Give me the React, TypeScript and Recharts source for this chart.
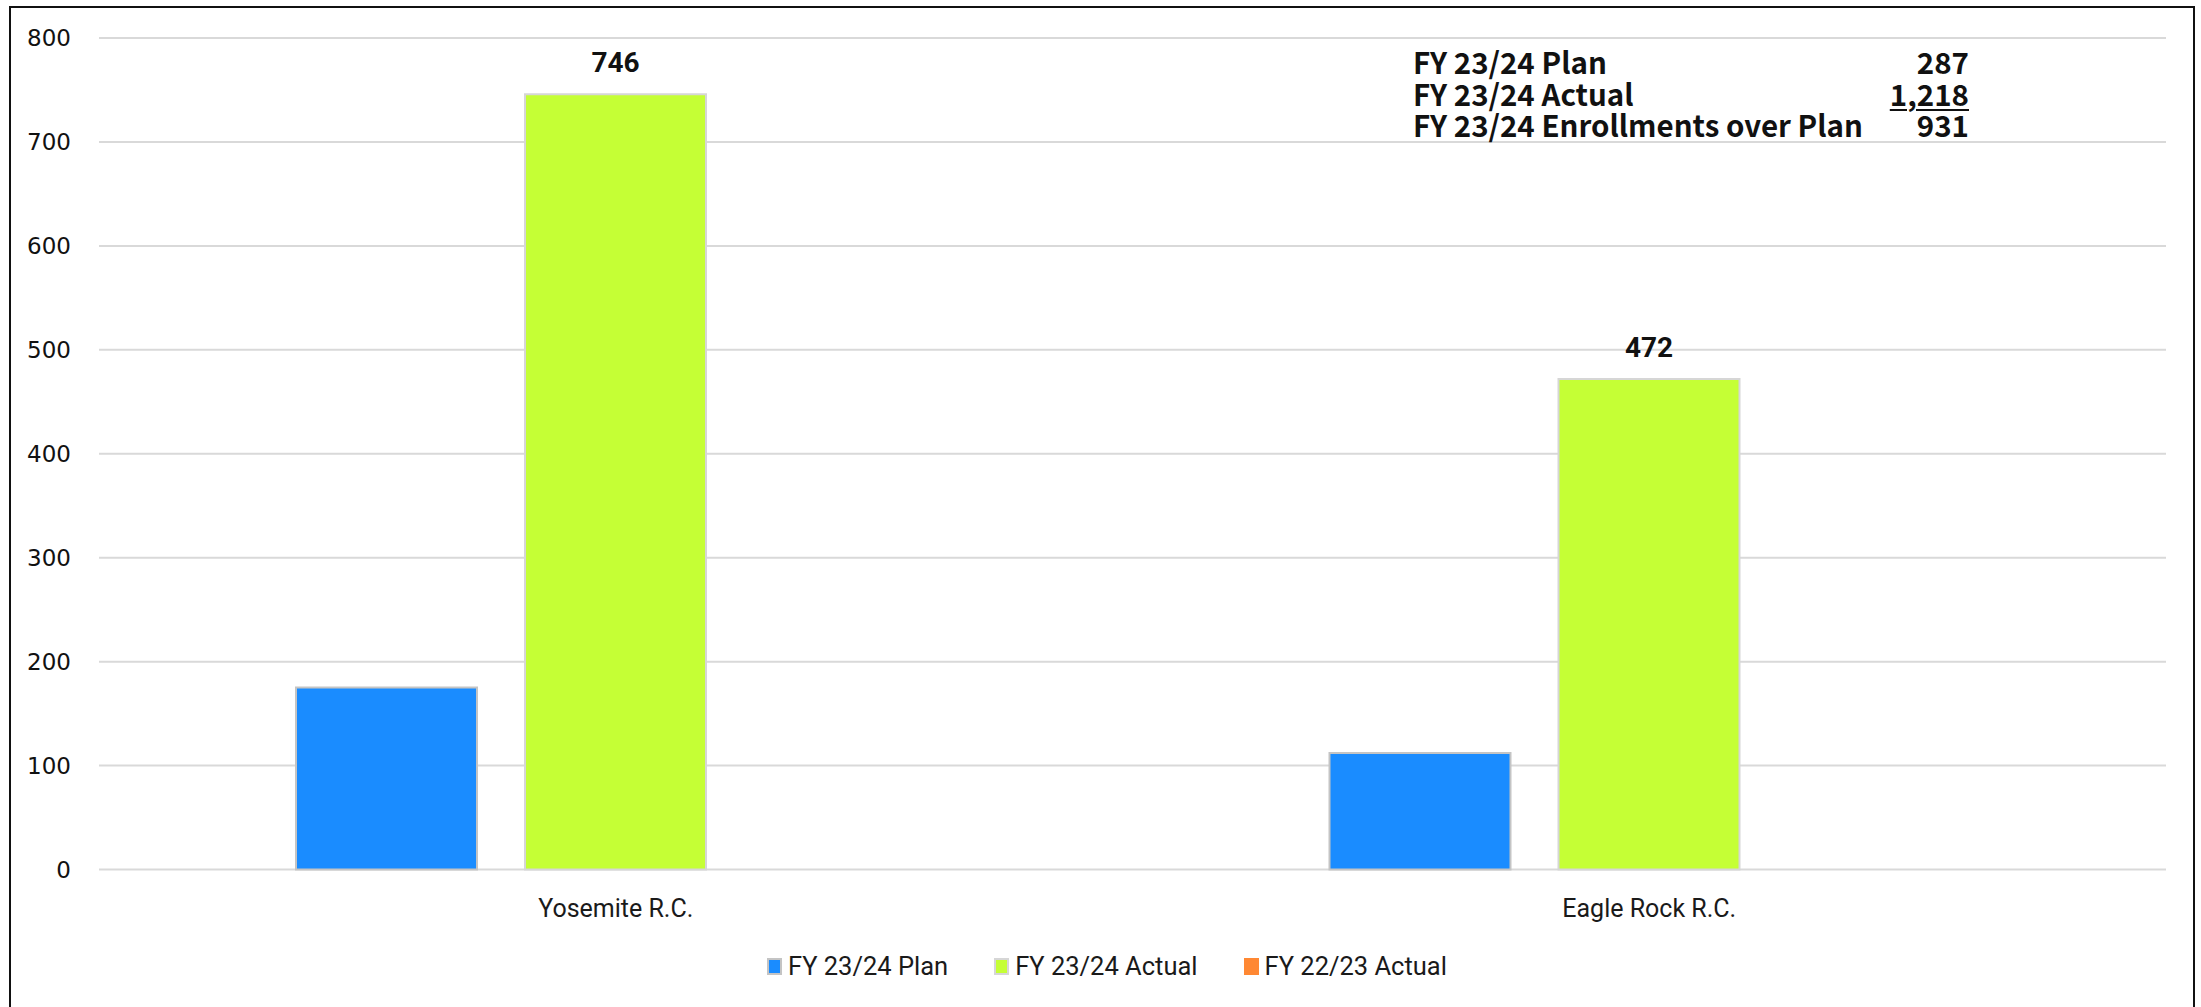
import React from "react";
import { BarChart, Bar, XAxis, YAxis, CartesianGrid, Legend, LabelList } from "recharts";

const CENTERS = ["Yosemite R.C.", "Eagle Rock R.C."];
const PLAN_2324 = [175, 112];
const ACTUAL_2324 = [746, 472];
const ACTUAL_2223: (number | null)[] = [null, null];
const Y_TICKS = [0, 100, 200, 300, 400, 500, 600, 700, 800];

const SERIES = [
  { key: "plan", name: "FY 23/24 Plan", color: "#1a8cff", stroke: "#c4c4c4" },
  { key: "actual", name: "FY 23/24 Actual", color: "#c5ff35", stroke: "#d6d6d6" },
  { key: "prior", name: "FY 22/23 Actual", color: "#ff8833", stroke: "none" },
];

const chartData = CENTERS.map((center, i) => ({
  center,
  plan: PLAN_2324[i],
  actual: ACTUAL_2324[i],
  prior: ACTUAL_2223[i],
}));

// totals shown in the top-right box
const planTotal = PLAN_2324.reduce((a, b) => a + b, 0);
const actualTotal = ACTUAL_2324.reduce((a, b) => a + b, 0);
const summary = [
  { label: "FY 23/24 Plan", value: planTotal, underline: false },
  { label: "FY 23/24 Actual", value: actualTotal, underline: true },
  { label: "FY 23/24 Enrollments over Plan", value: actualTotal - planTotal, underline: false },
];

const TEXT = "#1a1a1a";

function LegendRow() {
  return (
    <div
      style={{
        display: "flex",
        justifyContent: "center",
        alignItems: "center",
        height: 36,
        paddingLeft: 37,
        fontFamily: "Roboto, sans-serif",
        fontSize: 25.5,
        color: TEXT,
      }}
    >
      {SERIES.map((s, i) => (
        <div
          key={s.key}
          style={{ display: "flex", alignItems: "center", marginRight: i < SERIES.length - 1 ? 46 : 0 }}
        >
          <span
            style={{
              display: "inline-block",
              width: 15,
              height: 17,
              background: s.color,
              border: s.stroke === "none" ? "none" : `2px solid ${s.stroke}`,
              boxSizing: "border-box",
              marginRight: 6,
            }}
          />
          <span>{s.name}</span>
        </div>
      ))}
    </div>
  );
}

export default function App() {
  return (
    <div
      style={{
        position: "fixed",
        left: 9,
        top: 6,
        width: 2186,
        height: 1012,
        border: "2px solid #111",
        boxSizing: "border-box",
        background: "#fff",
        overflow: "hidden",
      }}
    >
      <BarChart
        width={2182}
        height={1000}
        data={chartData}
        margin={{ top: 30, right: 27, bottom: 24, left: 0 }}
        barGap={48}
        barSize={181}
      >
        <CartesianGrid vertical={false} stroke="#d9d9d9" strokeWidth={2} />
        <XAxis
          dataKey="center"
          tickLine={false}
          axisLine={false}
          height={78.5}
          tickMargin={23.5}
          tick={{ fontSize: 25, fill: TEXT, fontFamily: "Roboto, sans-serif" }}
        />
        <YAxis
          width={88}
          domain={[0, 800]}
          ticks={Y_TICKS}
          tickLine={false}
          axisLine={false}
          tickMargin={22}
          tick={{ fontSize: 23, fill: "#111", fontFamily: "DejaVu Sans, sans-serif" }}
        />
        <Legend verticalAlign="bottom" content={() => <LegendRow />} />
        {SERIES.map((s) => (
          <Bar
            key={s.key}
            dataKey={s.key}
            name={s.name}
            fill={s.color}
            stroke={s.stroke}
            strokeWidth={2}
            isAnimationActive={false}
          >
            {s.key === "actual" && (
              <LabelList
                dataKey="actual"
                position="top"
                offset={22}
                fill="#111"
                fontSize={28}
                fontWeight={700}
                fontFamily="Roboto, sans-serif"
              />
            )}
          </Bar>
        ))}
      </BarChart>
      <div
        style={{
          position: "absolute",
          left: 1402,
          top: 38,
          width: 556,
          display: "grid",
          gridTemplateColumns: "1fr auto",
          fontFamily: '"Noto Sans CJK JP", "Liberation Sans Narrow", sans-serif',
          fontWeight: 700,
          fontSize: 29.5,
          lineHeight: "31.5px",
          color: "#111",
        }}
      >
        {summary.map((row) => (
          <React.Fragment key={row.label}>
            <span>{row.label}</span>
            <span
              style={{
                textAlign: "right",
                textDecoration: row.underline ? "underline" : "none",
                textDecorationThickness: 2,
                textUnderlineOffset: 3,
              }}
            >
              {row.value.toLocaleString("en-US")}
            </span>
          </React.Fragment>
        ))}
      </div>
    </div>
  );
}
